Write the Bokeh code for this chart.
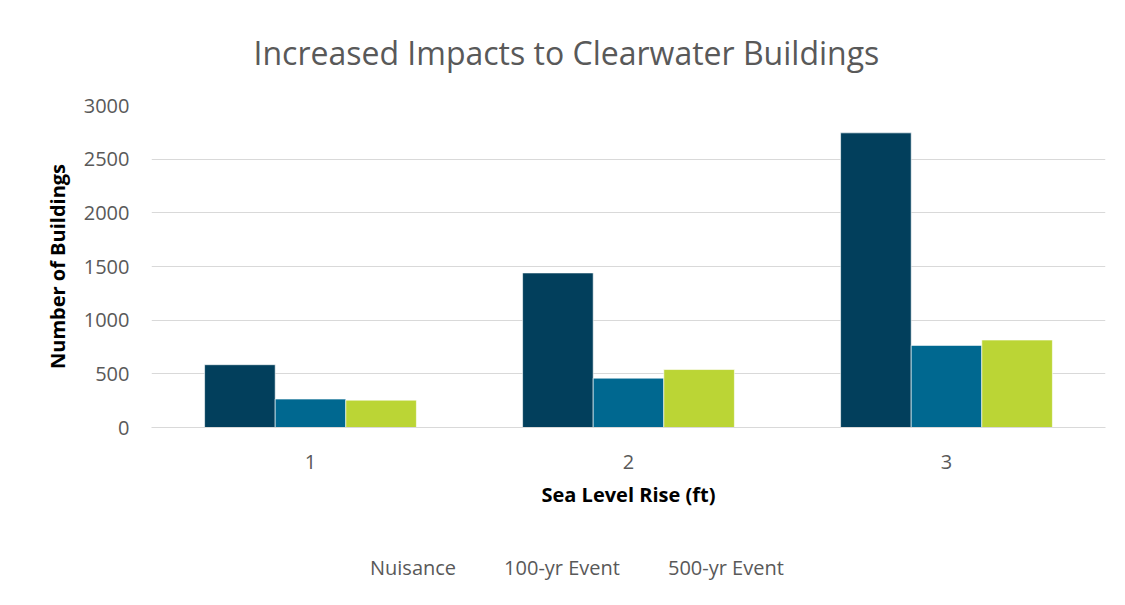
from bokeh.plotting import figure
from bokeh.layouts import column
from bokeh.models import ColumnDataSource, FactorRange, Range1d, Legend, LegendItem, FixedTicker
from bokeh.transform import dodge
from bokeh.embed import file_html
from bokeh.resources import INLINE

categories = ["1", "2", "3"]
series_names = ["Nuisance", "100-yr Event", "500-yr Event"]
nuisance = [585, 1440, 2745]
event_100 = [265, 460, 765]
event_500 = [255, 540, 815]
colors = ["#023F5C", "#006890", "#BBD535"]
y_ticks = [0, 500, 1000, 1500, 2000, 2500, 3000]

src = ColumnDataSource(dict(cat=categories, n=nuisance, e100=event_100, e500=event_500))

FONT = "Open Sans"
GRAY = "#595959"

p = figure(
    width=1125, height=520,
    x_range=FactorRange(*categories, range_padding=0),
    y_range=Range1d(0, 3000),
    output_backend="svg", toolbar_location=None,
    min_border_left=151, min_border_right=20, min_border_top=103, min_border_bottom=93,
    title="Increased Impacts to Clearwater Buildings",
)

bw = 0.222
cols = ["n", "e100", "e500"]
offs = [-bw, 0, bw]
for c, off, col in zip(cols, offs, colors):
    p.vbar(x=dodge("cat", off, range=p.x_range), top=c, width=bw, bottom=0,
           source=src, fill_color=col, line_color="white", line_width=1, line_alpha=0.6)

p.title.text_font = FONT
p.title.text_font_size = "32px"
p.title.text_font_style = "normal"
p.title.text_color = GRAY
p.title.align = "left"
p.title.offset = 102
p.title.vertical_align = "top"
p.title.standoff = 60

p.outline_line_color = None
p.background_fill_color = "white"
p.border_fill_color = "white"

p.xgrid.grid_line_color = None
p.ygrid.grid_line_color = "#D9D9D9"
p.ygrid.grid_line_width = 1
p.yaxis.ticker = FixedTicker(ticks=y_ticks)

for ax in (p.xaxis[0], p.yaxis[0]):
    ax.major_tick_line_color = None
    ax.minor_tick_line_color = None
    ax.major_label_text_font = FONT
    ax.major_label_text_font_size = "20px"
    ax.major_label_text_color = GRAY
    ax.axis_label_text_font = FONT
    ax.axis_label_text_font_style = "bold"
    ax.axis_label_text_font_size = "20px"
    ax.axis_label_text_color = "#000000"

p.yaxis.axis_line_color = None
p.yaxis.major_label_standoff = 16
p.yaxis.axis_label = "Number of Buildings"
p.yaxis.axis_label_standoff = 10

p.xaxis.axis_line_color = "#D9D9D9"
p.xaxis.major_label_standoff = 21
p.xaxis.axis_label = "Sea Level Rise (ft)"
p.xaxis.axis_label_standoff = 9

# Legend strip below the chart
lg = figure(
    width=1125, height=85, x_range=Range1d(0, 1), y_range=Range1d(0, 1),
    x_axis_type=None, y_axis_type=None, output_backend="svg", toolbar_location=None,
    min_border=0, min_border_left=0, min_border_right=0, min_border_top=0, min_border_bottom=0,
)
lg.outline_line_color = None
lg.xgrid.grid_line_color = None
lg.ygrid.grid_line_color = None
lg.background_fill_color = "white"
lg.border_fill_color = "white"

swatches = []
for col in colors:
    r = lg.vbar(x=[], top=[], width=0.1, fill_color=col, line_color="white",
                line_width=1, line_alpha=0.6)
    swatches.append(r)

legend = Legend(
    items=[LegendItem(label=n, renderers=[r]) for n, r in zip(series_names, swatches)],
    location=(199, 24), orientation="horizontal",
    glyph_width=14, glyph_height=14, label_standoff=6, spacing=28,
    padding=0, margin=0, border_line_color=None, background_fill_alpha=0,
    label_text_font=FONT, label_text_font_size="20px", label_text_color=GRAY,
)
lg.add_layout(legend, "center")

layout = column(p, lg, spacing=0)
open("out.html", "w").write(file_html(layout, INLINE))
